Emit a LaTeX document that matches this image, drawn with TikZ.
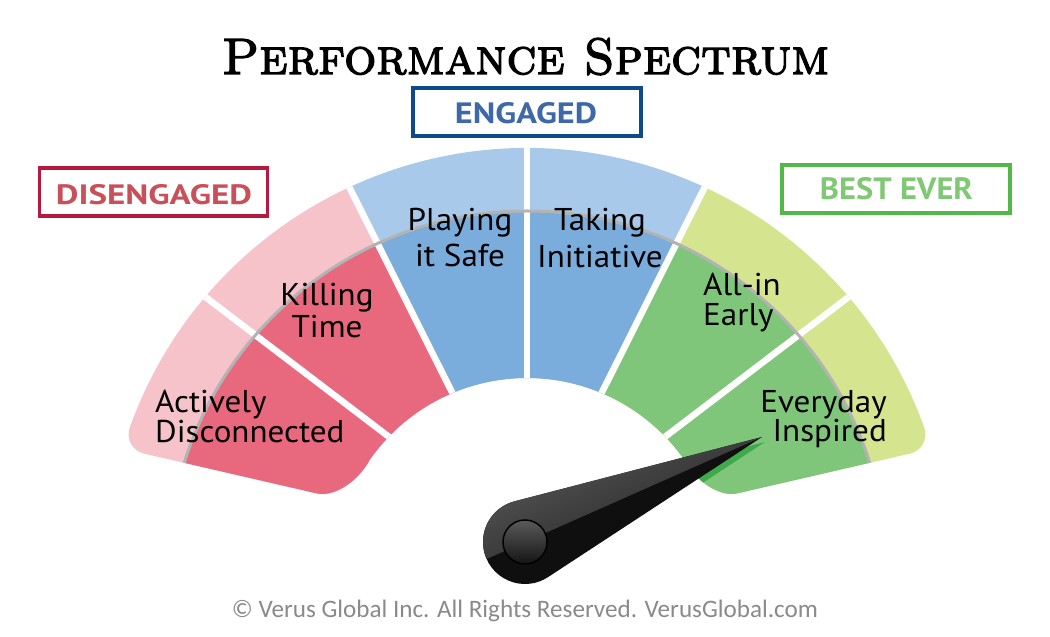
\documentclass[tikz,border=0pt]{standalone}
\usepackage{fontspec}
\usetikzlibrary{calc}
\newfontfamily\labfont{PT Sans}[FakeStretch=1.05]
\newfontfamily\boxfont{PT Sans}
\newfontfamily\footfont{Carlito}
\newfontfamily\titlefont{lmromancaps10-regular}[Extension=.otf, FakeBold=2.6]
\definecolor{dred}{HTML}{E8687E}
\definecolor{lred}{HTML}{F5C3C9}
\definecolor{dblue}{HTML}{7AACDC}
\definecolor{lblue}{HTML}{A9C9EA}
\definecolor{dgreen}{HTML}{80C67A}
\definecolor{lgreen}{HTML}{D5E48E}
\definecolor{arcgray}{HTML}{B3B3B3}
\definecolor{redframe}{HTML}{B8173E}
\definecolor{redtext}{HTML}{C8505A}
\definecolor{blueframe}{HTML}{0C4A8C}
\definecolor{bluetext}{HTML}{3F68A8}
\definecolor{greenframe}{HTML}{52B847}
\definecolor{greentext}{HTML}{80C873}
\definecolor{footgray}{HTML}{8A8A8A}
\definecolor{shadowgreen}{HTML}{3FAA4B}
\definecolor{needletop}{HTML}{5A5A5A}
\definecolor{needlebot}{HTML}{1E1E1E}
\newcommand\gwedge[3]{\fill[#1] (Cp) -- ($(Cp)+(#2:700)$) -- ($(Cp)+({(#2+#3)/2}:700)$) -- ($(Cp)+(#3:700)$) -- cycle;}
\tikzset{
  seglabel/.style={font=\labfont\fontsize{31.5}{31.5}\selectfont, inner sep=0pt, text=black},
  framebox/.style={rectangle, minimum width=228, minimum height=48, inner sep=0pt},
  frametext/.style={anchor=base, inner sep=0pt, font=\boxfont\bfseries},
  gapline/.style={white, line width=6.5},
}
\begin{document}
\begin{tikzpicture}[x=1pt,y=1pt]
\useasboundingbox (-527,-67) rectangle (523,570);
\fill[white] (-527,-67) rectangle (523,570);
% key coordinates
\coordinate (O) at (0,0);
\coordinate (Cp) at (0,28);
\coordinate (P1) at (-404.2,121.3);
\coordinate (P2) at (-179.1,69.4);
\coordinate (P1r) at (404.2,121.3);
\coordinate (P2r) at (179.1,69.4);
\coordinate (Q1a) at ($(P1)!22pt!(P2)$);
\coordinate (Q1b) at (160.3:422);
\coordinate (Q2a) at ($(P2)!32pt!(P1)$);
\coordinate (Q2b) at (144.8:192);
\coordinate (Q1ar) at ($(P1r)!22pt!(P2r)$);
\coordinate (Q1br) at (19.7:422);
\coordinate (Q2ar) at ($(P2r)!32pt!(P1r)$);
\coordinate (Q2br) at (35.2:192);
\coordinate (C1a) at ($(Q1a)!0.55!(P1)$);
\coordinate (C1b) at ($(Q1b)!0.55!(P1)$);
\coordinate (C2a) at ($(Q2a)!0.55!(P2)$);
\coordinate (C2b) at ($(Q2b)!0.55!(P2)$);
\coordinate (C1ar) at ($(Q1ar)!0.55!(P1r)$);
\coordinate (C1br) at ($(Q1br)!0.55!(P1r)$);
\coordinate (C2ar) at ($(Q2ar)!0.55!(P2r)$);
\coordinate (C2br) at ($(Q2br)!0.55!(P2r)$);
\def\gaugepath{(Q2a) -- (Q1a) .. controls (C1a) and (C1b) .. (Q1b)
  arc[start angle=160.3, end angle=19.7, radius=422]
  .. controls (C1br) and (C1ar) .. (Q1ar) -- (Q2ar)
  .. controls (C2ar) and (C2br) .. (Q2br)
  arc[start angle=35.2, end angle=144.8, radius=192]
  .. controls (C2b) and (C2a) .. (Q2a) -- cycle}
% gauge
\begin{scope}
  \clip \gaugepath;
  \gwedge{lred}{142.7}{190}
  \gwedge{lred}{116.6}{142.7}
  \gwedge{lblue}{90}{116.6}
  \gwedge{lblue}{63.4}{90}
  \gwedge{lgreen}{37.3}{63.4}
  \gwedge{lgreen}{-10}{37.3}
  \begin{scope}
    \clip (O) circle (359);
    \gwedge{dred}{142.7}{190}
    \gwedge{dred}{116.6}{142.7}
    \gwedge{dblue}{90}{116.6}
    \gwedge{dblue}{63.4}{90}
    \gwedge{dgreen}{37.3}{63.4}
    \gwedge{dgreen}{-10}{37.3}
  \end{scope}
  \foreach \a in {142.7,116.6,90,63.4,37.3}
    \draw[gapline] (Cp) -- ($(Cp)+(\a:700)$);
  \draw[arcgray, line width=3] (O) circle (359);
\end{scope}
% needle
\coordinate (hub) at (-2,28);
\coordinate (tip) at (235,133);
\begin{scope}
  \clip \gaugepath;
  \clip (O) circle (359);
  \fill[shadowgreen] ($(tip)+(3,-5)$) -- ($(hub)+(3,-5)+(104.6:42)$)
     arc[start angle=104.6, end angle=303.2, radius=42] -- cycle;
\end{scope}
\fill[black!94] (tip) -- ($(hub)+(104.6:42)$)
   arc[start angle=104.6, end angle=303.2, radius=42] -- cycle;
\shade[top color=needletop, bottom color=needlebot, shading angle=24]
   (tip) -- ($(hub)+(104.6:42)$)
   arc[start angle=104.6, end angle=203.9, radius=42] -- cycle;
\shade[top color=needletop, bottom color=black!92, draw=black, line width=1.5]
   (hub) circle (22);
% segment labels
\node[seglabel, anchor=base west] (l1a) at (-372,157) {Actively};
\node[seglabel, anchor=base west] (l1b) at (-372,127) {Disconnected};
\node[seglabel, anchor=base] (l2a) at (-200,264) {Killing};
\node[seglabel, anchor=base] (l2b) at (-200,232) {Time};
\node[seglabel, anchor=base] (l3a) at (-67,339) {Playing};
\node[seglabel, anchor=base] (l3b) at (-67,303) {it Safe};
\node[seglabel, anchor=base] (l4a) at (73,339) {Taking};
\node[seglabel, anchor=base] (l4b) at (73,302) {Initiative};
\node[seglabel, anchor=base west] (l5a) at (176,274) {All-in};
\node[seglabel, anchor=base west] (l5b) at (176,244) {Early};
\node[seglabel, anchor=base east] (l6a) at (360,157) {Everyday};
\node[seglabel, anchor=base east] (l6b) at (360,128) {Inspired};
% group boxes
\node[framebox, draw=redframe, line width=3.5] (disbox) at (-373.5,378) {};
\node[frametext, text=redtext] (distext) at (-373,365) {\resizebox{196pt}{20pt}{DISENGAGED}};
\node[framebox, draw=blueframe, line width=4] (engbox) at (0.5,457.5) {};
\node[frametext, text=bluetext] (engtext) at (-1,446) {\resizebox{142pt}{21pt}{ENGAGED}};
\node[framebox, draw=greenframe, line width=4] (bestbox) at (369,381) {};
\node[frametext, text=greentext] (besttext) at (369.5,370) {\resizebox{153pt}{22pt}{BEST EVER}};
% title
\node[anchor=base, inner sep=0pt] (title) at (-1.5,496) {\resizebox{607pt}{36pt}{\titlefont Performance Spectrum}};
% footer
\node[anchor=base, inner sep=0pt, text=footgray] (foot) at (-2,-48) {\resizebox{586pt}{!}{\footfont © Verus Global Inc. All Rights Reserved. VerusGlobal.com}};
\end{tikzpicture}
\end{document}
